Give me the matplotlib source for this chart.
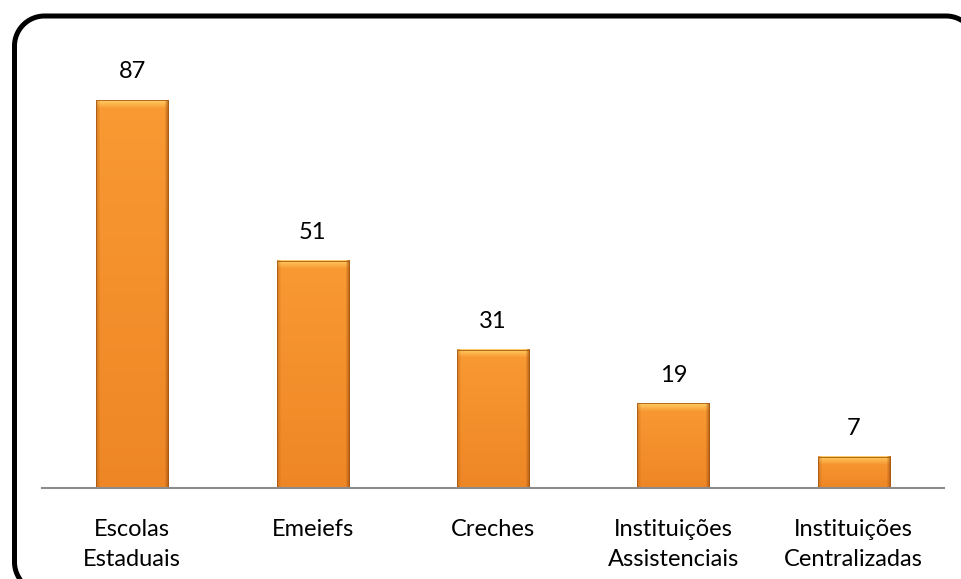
import numpy as np
import matplotlib.pyplot as plt
from matplotlib.lines import Line2D
from matplotlib.colors import to_rgb

categories = ["Escolas\nEstaduais", "Emeiefs", "Creches",
              "Instituições\nAssistenciais", "Instituições\nCentralizadas"]
values = [87, 51, 31, 19, 7]

plt.rcParams['font.family'] = ['Lato', 'DejaVu Sans']

fig = plt.figure(figsize=(9.61, 5.79), dpi=100)
ax = fig.add_axes([0.0437, 0.157, 0.9386, 0.770])

x = np.arange(len(categories))
width = 0.40
bars = ax.bar(x, values, width=width, color='#F7942E', edgecolor='none',
              linewidth=0, zorder=2)


def bevel_image(h_units):
    # one row per pixel (about 4.46 px per unit)
    ny = max(int(h_units * 4.46), 8)
    nx = 73
    base = np.array(to_rgb('#F99A33'))
    low = np.array(to_rgb('#EE8625'))
    hi = np.array(to_rgb('#FFD266'))
    dark = np.array(to_rgb('#A85510'))
    t = np.linspace(0, 1, ny)[:, None, None]
    img = base + (low - base) * t * np.ones((1, nx, 1))
    # top bevel
    top = 8
    for r in range(min(top, ny)):
        f = 1 - r / top
        img[r] = img[r] * (1 - 0.9 * f) + hi * 0.9 * f
    # side bevels
    side = 4
    for c in range(side):
        f = 1 - c / side
        img[:, nx - 1 - c] = img[:, nx - 1 - c] * (1 - 0.8 * f) + dark * 0.8 * f
        img[:, c] = img[:, c] * (1 - 0.4 * f) + dark * 0.4 * f
    return img


for b in bars:
    bx, bw, bh = b.get_x(), b.get_width(), b.get_height()
    ax.imshow(bevel_image(bh), origin='upper', aspect='auto',
              extent=[bx, bx + bw, 0, bh], zorder=2.5, interpolation='nearest')
    ax.bar(bx + bw / 2, bh, width=bw, fill=False,
           edgecolor='#A85A14', linewidth=0.6, zorder=2.7)

for xi, v in zip(x, values):
    ax.text(xi, v + 4, str(v), ha='center', va='bottom', fontsize=17, color='black')

ax.set_xlim(-0.5, len(categories) - 0.5)
ax.set_ylim(0, 100)
ax.set_xticks(x)
ax.set_xticklabels(categories, fontsize=17, linespacing=1.55)
ax.tick_params(axis='x', length=0, pad=22)
ax.set_yticks([])
for s in ['top', 'right', 'left']:
    ax.spines[s].set_visible(False)
ax.spines['bottom'].set_color('#8C8C8C')
ax.spines['bottom'].set_linewidth(1.5)
ax.spines['bottom'].set_zorder(3)
ax.set_facecolor('none')

# rounded frame, in pixels; it runs off the right and bottom edges
r = 30
xl, xr, yt, yb = 14.5, 976, 563, -13


def arc(cx, cy, a0, a1):
    a = np.radians(np.linspace(a0, a1, 40))
    return cx + r * np.cos(a), cy + r * np.sin(a)


pieces = [arc(xr - r, yb + r, 0, -90)[::-1],
          arc(xl + r, yb + r, 270, 180),
          arc(xl + r, yt - r, 180, 90),
          arc(xr - r, yt - r, 90, 0)]
# order: bottom line (from right), bottom-left corner, left side, top-left, top, top-right, right side
xs = np.concatenate([[xr - r], pieces[1][0], pieces[2][0], pieces[3][0], [xr]])
ys = np.concatenate([[yb], pieces[1][1], pieces[2][1], pieces[3][1], [yb + r]])
fig.lines.append(Line2D(xs, ys, transform=None, color='black', linewidth=3.6,
                        solid_capstyle='butt'))

fig.savefig('out.png', dpi=100)
